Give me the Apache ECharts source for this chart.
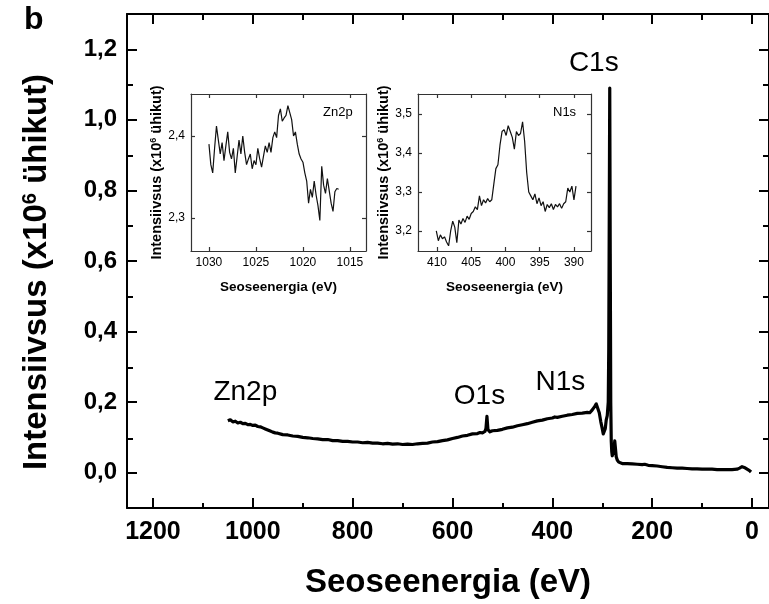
<!DOCTYPE html>
<html>
<head>
<meta charset="utf-8">
<script src="https://cdn.jsdelivr.net/npm/echarts@6/dist/echarts.min.js"></script>
<style>html,body{margin:0;padding:0;background:#fff}#chart{width:769px;height:604px}</style>
</head>
<body>
<div id="chart"></div>
<script>
// survey spectrum [binding energy eV, intensity x10^6]
var mainSpectrum = [[1050,0.147],[1045,0.150],[1040,0.144],[1035,0.146],[1030,0.141],[1025,0.143],[1020,0.139],[1015,0.140],[1010,0.136],[1005,0.137],[1000,0.134],[995,0.135],[990,0.131],[985,0.130],[980,0.127],[975,0.124],[970,0.121],[965,0.118],[960,0.115],[955,0.113],[950,0.112],[940,0.108],[930,0.107],[920,0.104],[910,0.103],[900,0.100],[890,0.099],[880,0.097],[870,0.096],[860,0.094],[850,0.094],[840,0.091],[830,0.091],[820,0.089],[810,0.089],[800,0.087],[790,0.087],[780,0.085],[770,0.086],[760,0.084],[750,0.084],[740,0.082],[730,0.083],[720,0.081],[710,0.082],[700,0.080],[690,0.081],[680,0.080],[670,0.082],[660,0.083],[650,0.084],[640,0.087],[630,0.088],[620,0.091],[610,0.093],[600,0.097],[590,0.100],[580,0.104],[570,0.106],[560,0.110],[550,0.111],[545,0.114],[540,0.113],[535,0.117],[533,0.125],[531,0.160],[529,0.122],[525,0.116],[520,0.119],[510,0.120],[500,0.123],[490,0.127],[480,0.129],[470,0.133],[460,0.136],[450,0.139],[440,0.143],[430,0.147],[420,0.149],[410,0.153],[400,0.155],[395,0.158],[390,0.157],[380,0.160],[370,0.163],[360,0.165],[350,0.168],[340,0.169],[330,0.171],[325,0.170],[320,0.178],[315,0.188],[312,0.195],[309,0.190],[306,0.170],[303,0.145],[300,0.125],[298,0.110],[296,0.107],[294,0.125],[292,0.150],[290,0.162],[288,0.200],[287,0.350],[286,0.720],[285,1.090],[284,0.620],[283,0.200],[282,0.090],[281,0.060],[280,0.048],[278,0.050],[276,0.070],[275,0.090],[274,0.075],[272,0.045],[270,0.036],[267,0.030],[264,0.027],[260,0.026],[250,0.026],[240,0.025],[230,0.024],[220,0.023],[215,0.024],[212,0.025],[208,0.021],[200,0.020],[190,0.019],[180,0.017],[170,0.015],[160,0.014],[150,0.013],[140,0.013],[130,0.012],[120,0.011],[110,0.011],[100,0.010],[90,0.010],[80,0.010],[70,0.009],[60,0.009],[50,0.009],[40,0.009],[30,0.010],[25,0.013],[20,0.017],[17,0.018],[14,0.014],[10,0.010],[5,0.006],[2,0.002]];

var zn2pSpectrum = [[1030.0,2.390],[1029.8,2.365],[1029.6,2.355],[1029.4,2.385],[1029.2,2.412],[1029.0,2.395],[1028.8,2.378],[1028.6,2.392],[1028.4,2.370],[1028.2,2.388],[1028.0,2.405],[1027.8,2.380],[1027.6,2.372],[1027.4,2.385],[1027.2,2.355],[1027.0,2.375],[1026.8,2.395],[1026.6,2.378],[1026.4,2.400],[1026.2,2.380],[1026.0,2.365],[1025.8,2.372],[1025.6,2.378],[1025.4,2.360],[1025.2,2.370],[1025.0,2.365],[1024.8,2.385],[1024.6,2.372],[1024.4,2.362],[1024.2,2.375],[1024.0,2.388],[1023.8,2.380],[1023.6,2.392],[1023.4,2.380],[1023.2,2.398],[1023.0,2.405],[1022.8,2.398],[1022.6,2.425],[1022.4,2.433],[1022.2,2.418],[1022.0,2.422],[1021.8,2.425],[1021.6,2.437],[1021.4,2.438],[1021.2,2.420],[1021.0,2.400],[1020.8,2.405],[1020.6,2.390],[1020.4,2.378],[1020.2,2.372],[1020.0,2.368],[1019.8,2.355],[1019.6,2.345],[1019.4,2.318],[1019.2,2.335],[1019.0,2.325],[1018.8,2.345],[1018.6,2.328],[1018.4,2.315],[1018.2,2.297],[1018.0,2.363],[1017.8,2.340],[1017.6,2.330],[1017.4,2.348],[1017.2,2.333],[1017.0,2.318],[1016.8,2.308],[1016.6,2.332],[1016.4,2.336],[1016.2,2.335]];

var n1sSpectrum = [[410.1,3.200],[409.8,3.175],[409.5,3.190],[409.2,3.180],[408.9,3.185],[408.6,3.172],[408.3,3.162],[408.0,3.200],[407.7,3.225],[407.4,3.210],[407.1,3.170],[406.8,3.228],[406.5,3.218],[406.2,3.232],[405.9,3.222],[405.6,3.238],[405.3,3.230],[405.0,3.245],[404.7,3.250],[404.4,3.262],[404.1,3.255],[403.8,3.290],[403.5,3.265],[403.2,3.280],[402.9,3.272],[402.6,3.283],[402.3,3.275],[402.0,3.280],[401.7,3.320],[401.4,3.360],[401.1,3.370],[400.8,3.420],[400.5,3.455],[400.2,3.460],[399.9,3.445],[399.6,3.470],[399.3,3.455],[399.0,3.440],[398.7,3.410],[398.4,3.455],[398.1,3.445],[397.8,3.450],[397.5,3.480],[397.2,3.430],[396.9,3.350],[396.6,3.300],[396.3,3.290],[396.0,3.280],[395.7,3.295],[395.4,3.270],[395.1,3.285],[394.8,3.265],[394.5,3.275],[394.2,3.250],[393.9,3.268],[393.6,3.260],[393.3,3.270],[393.0,3.255],[392.7,3.268],[392.4,3.262],[392.1,3.270],[391.8,3.258],[391.5,3.270],[391.2,3.275],[390.9,3.310],[390.6,3.300],[390.3,3.315],[390.0,3.280],[389.7,3.315]];

// tick positions
var mainXTicks = [0, 200, 400, 600, 800, 1000, 1200];
var mainXMinor = [100, 300, 500, 700, 900, 1100];
var mainYTicks = [0, 0.2, 0.4, 0.6, 0.8, 1.0, 1.2];
var mainYMinor = [0.1, 0.3, 0.5, 0.7, 0.9, 1.1];
var zn2pXTicks = [1015, 1020, 1025, 1030];
var zn2pYTicks = [2.3, 2.4];
var n1sXTicks = [390, 395, 400, 405, 410];
var n1sYTicks = [3.2, 3.3, 3.4, 3.5];

// peak labels on the survey: [energy, intensity, name]
var peakLabels = [[1015, 0.228, 'Zn2p'], [546, 0.218, 'O1s'], [384, 0.256, 'N1s'], [317, 1.161, 'C1s']];

var FONT = '"Liberation Sans", Arial, sans-serif';
var chart = echarts.init(document.getElementById('chart'));

function comma(v, d) { return v.toFixed(d).replace('.', ','); }

// one value axis with ticks only at the given values
function axis(o) {
    var a = {
        gridIndex: o.grid, type: 'value', position: o.pos, min: o.min, max: o.max,
        inverse: !!o.inverse,
        axisLine: { show: o.line !== false, onZero: false, lineStyle: { color: o.color || '#000', width: o.lw || 2 } },
        axisTick: { show: true, inside: true, length: o.tick, customValues: o.ticks,
            lineStyle: { color: o.color || '#000', width: o.lw || 2 } },
        axisLabel: { show: !!o.label, customValues: o.ticks, formatter: o.fmt || function (v) { return '' + v; },
            fontFamily: FONT, fontSize: o.fs, fontWeight: o.fw || 'normal', color: '#000', margin: o.margin },
        splitLine: { show: false }
    };
    if (o.name) {
        var nw = o.nfw || 'bold';
        a.name = o.name;
        a.nameLocation = 'middle';
        a.nameGap = o.gap;
        a.nameTextStyle = { fontFamily: FONT, fontSize: o.nfs, fontWeight: nw, color: '#000', padding: o.npad || 0,
            rich: { sup: { fontSize: Math.round(o.nfs * 0.6), fontWeight: nw, verticalAlign: 'top',
                lineHeight: Math.round(o.nfs * 0.6), fontFamily: FONT, color: '#000' } } };
    }
    return a;
}

var yName = 'Intensiivsus (x10{sup|6} ühikut)';
var xName = 'Seoseenergia (eV)';
var yFmt1 = function (v) { return comma(v, 1); };
var MX = { min: -34, max: 1252, inverse: true };
var MY = { min: -0.1, max: 1.3 };
var ZX = { min: 1013.29, max: 1031.91, inverse: true };
var ZY = { min: 2.2597, max: 2.4512 };
var NX = { min: 387.51, max: 412.77, inverse: true };
var NY = { min: 3.1487, max: 3.5513 };
function ext(a, b) { var r = {}; for (var k in a) r[k] = a[k]; for (var k2 in b) r[k2] = b[k2]; return r; }

var mainRect = { left: 127, top: 14, width: 643, height: 495 };
var option = {
    animation: false,
    backgroundColor: '#fff',
    grid: [
        mainRect,
        ext(mainRect, {}),
        { left: 191, top: 94, width: 175, height: 157 },
        { left: 418, top: 94, width: 173, height: 157 }
    ],
    xAxis: [
        axis(ext(MX, { grid: 0, pos: 'bottom', ticks: mainXTicks, tick: 10, label: true, fs: 25, fw: 'bold', margin: 12,
            name: xName, gap: 58, nfs: 33 })),
        axis(ext(MX, { grid: 0, pos: 'top', ticks: mainXTicks, tick: 10 })),
        axis(ext(MX, { grid: 1, pos: 'bottom', ticks: mainXMinor, tick: 6, line: false })),
        axis(ext(MX, { grid: 1, pos: 'top', ticks: mainXMinor, tick: 6, line: false })),
        axis(ext(ZX, { grid: 2, pos: 'bottom', ticks: zn2pXTicks, tick: 4, lw: 1.2, color: '#333', label: true, fs: 12, margin: 6,
            name: xName, gap: 29, nfs: 13.5 })),
        axis(ext(ZX, { grid: 2, pos: 'top', ticks: zn2pXTicks, tick: 4, lw: 1.2, color: '#333' })),
        axis(ext(NX, { grid: 3, pos: 'bottom', ticks: n1sXTicks, tick: 4, lw: 1.2, color: '#333', label: true, fs: 12, margin: 6,
            name: xName, gap: 29, nfs: 13.5 })),
        axis(ext(NX, { grid: 3, pos: 'top', ticks: n1sXTicks, tick: 4, lw: 1.2, color: '#333' }))
    ],
    yAxis: [
        axis(ext(MY, { grid: 0, pos: 'left', ticks: mainYTicks, tick: 10, label: true, fs: 24, fw: 'bold', margin: 10, fmt: yFmt1,
            name: yName, gap: 74, nfs: 33, npad: [0, 22, 0, 0] })),
        axis(ext(MY, { grid: 0, pos: 'right', ticks: mainYTicks, tick: 10 })),
        axis(ext(MY, { grid: 1, pos: 'left', ticks: mainYMinor, tick: 6, line: false })),
        axis(ext(MY, { grid: 1, pos: 'right', ticks: mainYMinor, tick: 6, line: false })),
        axis(ext(ZY, { grid: 2, pos: 'left', ticks: zn2pYTicks, tick: 4, lw: 1.2, color: '#333', label: true, fs: 12, margin: 6, fmt: yFmt1,
            name: yName, gap: 26, nfs: 14.5 })),
        axis(ext(ZY, { grid: 2, pos: 'right', ticks: zn2pYTicks, tick: 4, lw: 1.2, color: '#333' })),
        axis(ext(NY, { grid: 3, pos: 'left', ticks: n1sYTicks, tick: 4, lw: 1.2, color: '#333', label: true, fs: 12, margin: 6, fmt: yFmt1,
            name: yName, gap: 26, nfs: 14.5 })),
        axis(ext(NY, { grid: 3, pos: 'right', ticks: n1sYTicks, tick: 4, lw: 1.2, color: '#333' }))
    ],
    series: [
        {
            type: 'line', xAxisIndex: 0, yAxisIndex: 0, data: mainSpectrum, symbol: 'none',
            lineStyle: { color: '#000', width: 3.2, join: 'round' }
        },
        {
            type: 'scatter', xAxisIndex: 0, yAxisIndex: 0, data: peakLabels, symbolSize: 1,
            itemStyle: { color: 'rgba(0,0,0,0)', opacity: 1 },
            label: { show: true, position: 'inside', formatter: function (p) { return p.data[2]; },
                fontFamily: FONT, fontSize: 28, color: '#000', opacity: 1 }
        },
        {
            type: 'line', xAxisIndex: 4, yAxisIndex: 4, data: zn2pSpectrum, symbol: 'none',
            lineStyle: { color: '#111', width: 1.2 }
        },
        {
            type: 'line', xAxisIndex: 6, yAxisIndex: 6, data: n1sSpectrum, symbol: 'none',
            lineStyle: { color: '#111', width: 1.2 }
        }
    ],
    graphic: [
        { type: 'text', left: 24, top: 4, style: { text: 'b', font: 'bold 32px ' + FONT, fill: '#000' } },
        { type: 'text', left: 323, top: 106, style: { text: 'Zn2p', font: '13px ' + FONT, fill: '#000' } },
        { type: 'text', left: 553, top: 106, style: { text: 'N1s', font: '13px ' + FONT, fill: '#000' } }
    ]
};
chart.setOption(option);
</script>
</body>
</html>
